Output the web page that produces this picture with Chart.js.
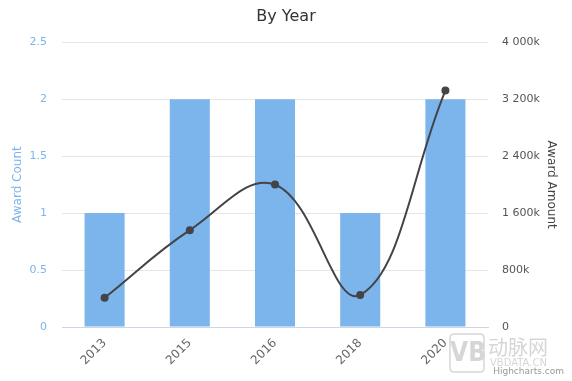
<!DOCTYPE html>
<html>
<head>
<meta charset="utf-8">
<script src="https://cdn.jsdelivr.net/npm/chart.js@4"></script>
<style>
  html, body { margin: 0; padding: 0; background: #fff; }
  #wrap { width: 572px; height: 381px; position: relative; }
</style>
</head>
<body>
<div id="wrap"><canvas id="c" width="572" height="381"></canvas></div>
<script>
const years = ['2013', '2015', '2016', '2018', '2020'];
const awardCount = [1, 2, 2, 1, 2];
const awardAmount = [410000, 1360000, 2000000, 450000, 3320000];
const countTicks = [0, 0.5, 1, 1.5, 2, 2.5];
const amountTicks = [0, 800000, 1600000, 2400000, 3200000, 4000000];

const FONT = "'DejaVu Sans', 'Lucida Grande', Arial, sans-serif";

function fmtK(v) {
  if (v === 0) return '0';
  const k = Math.round(v / 1000);
  return String(k).replace(/\B(?=(\d{3})+(?!\d))/g, ' ') + 'k';
}

const watermark = {
  id: 'watermark',
  afterDraw(chart) {
    const ctx = chart.ctx;
    ctx.save();
    ctx.strokeStyle = '#d6d6d6';
    ctx.lineWidth = 1.5;
    const x = 450, y = 334, w = 34, h = 38, r = 4;
    ctx.beginPath();
    ctx.moveTo(x + r, y); ctx.lineTo(x + w - r, y); ctx.quadraticCurveTo(x + w, y, x + w, y + r);
    ctx.lineTo(x + w, y + h - r); ctx.quadraticCurveTo(x + w, y + h, x + w - r, y + h);
    ctx.lineTo(x + r, y + h); ctx.quadraticCurveTo(x, y + h, x, y + h - r);
    ctx.lineTo(x, y + r); ctx.quadraticCurveTo(x, y, x + r, y);
    ctx.stroke();
    ctx.fillStyle = '#d6d6d6';
    ctx.font = "bold 26px 'DejaVu Sans Condensed', 'DejaVu Sans', sans-serif";
    ctx.textAlign = 'center';
    ctx.textBaseline = 'middle';
    ctx.fillText('VB', x + w / 2 + 1, y + h / 2 + 1);
    ctx.font = "20px 'Noto Sans CJK SC', sans-serif";
    ctx.textAlign = 'left';
    ctx.fillText('动脉网', 488, 347);
    ctx.font = "10px 'DejaVu Sans', sans-serif";
    ctx.fillText('VBDATA.CN', 490, 363);
    ctx.fillStyle = '#999999';
    ctx.font = "9px 'DejaVu Sans', sans-serif";
    ctx.textAlign = 'right';
    ctx.fillText('Highcharts.com', 564, 372);
    ctx.restore();
  }
};

new Chart(document.getElementById('c'), {
  data: {
    labels: years,
    datasets: [
      {
        type: 'line',
        label: 'Award Amount',
        data: awardAmount,
        yAxisID: 'y1',
        borderColor: '#434348',
        backgroundColor: '#434348',
        borderWidth: 2,
        pointRadius: 4,
        pointHoverRadius: 4,
        pointBackgroundColor: '#434348',
        pointBorderWidth: 0,
        tension: 0.4,
        order: 0
      },
      {
        type: 'bar',
        label: 'Award Count',
        data: awardCount,
        yAxisID: 'y',
        backgroundColor: '#7cb5ec',
        borderWidth: 0,
        barPercentage: 0.47,
        categoryPercentage: 1,
        order: 1
      }
    ]
  },
  options: {
    responsive: false,
    animation: false,
    layout: { padding: 0 },
    plugins: {
      legend: { display: false },
      tooltip: { enabled: false },
      title: {
        display: true,
        text: 'By Year',
        color: '#333333',
        font: { family: FONT, size: 16, weight: 'normal' },
        padding: { top: 7, bottom: 16 }
      }
    },
    scales: {
      x: {
        type: 'category',
        offset: true,
        grid: { display: false, drawTicks: false },
        border: { display: true, color: '#ccd6eb', width: 1 },
        ticks: {
          color: '#666666',
          font: { family: FONT, size: 12 },
          minRotation: 45,
          maxRotation: 45,
          padding: 9
        },
        afterFit(s) { s.height = 54; }
      },
      y: {
        position: 'left',
        min: 0,
        max: 2.5,
        afterBuildTicks(s) { s.ticks = countTicks.map(v => ({ value: v })); },
        grid: { color: '#e6e6e6', drawTicks: false },
        border: { display: false },
        ticks: {
          color: '#7cb5ec',
          font: { family: FONT, size: 11 },
          padding: 15,
          callback: v => String(v)
        },
        title: {
          display: true,
          text: 'Award Count',
          color: '#7cb5ec',
          font: { family: FONT, size: 12 },
          padding: { top: 11, bottom: 0 }
        },
        afterFit(s) { s.width = 62; }
      },
      y1: {
        position: 'right',
        min: 0,
        max: 4000000,
        afterBuildTicks(s) { s.ticks = amountTicks.map(v => ({ value: v })); },
        grid: { display: false, drawTicks: false },
        border: { display: false },
        ticks: {
          color: '#555555',
          font: { family: FONT, size: 11 },
          padding: 14,
          callback: v => fmtK(v)
        },
        title: {
          display: true,
          text: 'Award Amount',
          color: '#444444',
          font: { family: FONT, size: 12 },
          padding: { top: 14, bottom: 0 }
        },
        afterFit(s) { s.width = 84; }
      }
    }
  },
  plugins: [watermark]
});
</script>
</body>
</html>
